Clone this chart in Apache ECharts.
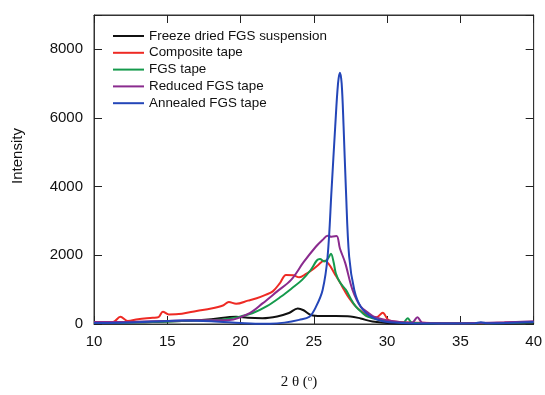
<!DOCTYPE html>
<html>
<head>
<meta charset="utf-8">
<script src="https://cdn.jsdelivr.net/npm/echarts@6/dist/echarts.min.js"></script>
<style>
  html, body { margin: 0; padding: 0; background: #fff; }
  #chart { width: 545px; height: 395px; }
</style>
</head>
<body>
<div id="chart"></div>
<script>
// [2θ, intensity]
const freezeDried = [[10,40],[12,50],[14,60],[16,90],[18,140],[19.7,210],[20.5,180],[21.5,170],[22.5,220],[23.3,320],[23.9,450],[24.3,400],[24.8,260],[25.5,230],[26.5,230],[27.5,220],[28.2,160],[29,70],[30,30],[32,15],[35,10],[38,20],[40,40]]
const composite = [[10,60],[11.3,60],[11.8,210],[12.3,90],[13,140],[14,180],[14.4,200],[14.7,360],[15.1,280],[16,300],[17,380],[18,450],[18.8,540],[19.2,640],[19.7,590],[20.5,680],[21.1,750],[21.7,850],[22.2,950],[22.7,1200],[23.1,1430],[23.6,1420],[24.0,1360],[24.5,1470],[24.9,1580],[25.3,1720],[25.7,1840],[26.0,1760],[26.4,1480],[26.8,1200],[27.07,990],[27.4,760],[27.87,505],[28.3,350],[28.8,220],[29.3,200],[29.7,330],[30.1,110],[30.8,60],[32,40],[34,20],[36,20],[38,40],[40,60]]
const fgsTape = [[10,30],[12,40],[14,60],[16,90],[18,110],[18.8,130],[19.8,200],[20.8,312],[21.8,520],[22.77,800],[23.5,1040],[24.2,1285],[24.8,1580],[25.2,1850],[25.42,1890],[25.7,1820],[25.95,1900],[26.17,2044],[26.35,1800],[26.5,1480],[26.8,1200],[27.19,993],[27.5,750],[27.87,505],[28.3,330],[28.66,213],[29.5,117],[30.5,60],[31.1,40],[31.4,170],[31.7,40],[33,20],[36,20],[40,50]]
const reducedTape = [[10,60],[12,60],[14,80],[16,100],[18,110],[19.25,117],[20.6,312],[21.5,600],[22.5,950],[23.45,1285],[24.3,1800],[25.15,2257],[25.6,2450],[25.94,2570],[26.2,2540],[26.55,2560],[26.78,2200],[27.14,1780],[27.64,993],[28.2,505],[28.8,300],[29.1,213],[29.9,117],[31,50],[31.7,40],[32.07,200],[32.4,40],[34,20],[36,30],[38,50],[40,80]]
const annealedTape = [[10,30],[12,40],[14,70],[16,100],[18,80],[20,30],[21,10],[22,10],[23,40],[24,120],[24.7,213],[25.15,505],[25.6,993],[25.94,1966],[26.21,3913],[26.46,5760],[26.65,7000],[26.78,7320],[26.9,7000],[27.03,5760],[27.19,3913],[27.41,1966],[27.76,993],[28.2,505],[28.9,213],[29.7,80],[31,30],[33,15],[36,20],[36.4,50],[36.8,20],[40,60]]

const names = ['Freeze dried FGS suspension', 'Composite tape', 'FGS tape', 'Reduced FGS tape', 'Annealed FGS tape']
const colors = ['#111111', '#ee2a24', '#159a4c', '#8a2b8e', '#2446b8']
const datasets = [freezeDried, composite, fgsTape, reducedTape, annealedTape]

const font = 'Liberation Sans, Arial, sans-serif'

const lines = datasets.map((d, i) => ({
  name: names[i],
  type: 'line',
  data: d,
  smooth: 0.35,
  symbol: 'none',
  color: colors[i],
  lineStyle: { width: 2, color: colors[i] },
  z: 2 + i
}))
// empty series so the top/right frame axes get drawn with ticks
lines.push({ type: 'line', data: [], xAxisIndex: 1, yAxisIndex: 1, symbol: 'none', silent: true })

const chart = echarts.init(document.getElementById('chart'))
chart.setOption({
  animation: false,
  grid: { left: 94, right: 10, top: 15, bottom: 71, show: true, borderColor: '#333', borderWidth: 1 },
  legend: {
    left: 108,
    top: 24,
    orient: 'vertical',
    icon: 'rect',
    itemWidth: 31,
    itemHeight: 2,
    itemGap: 2.8,
    textStyle: { fontFamily: font, fontSize: 13.4, color: '#111', lineHeight: 14 },
    data: names
  },
  xAxis: [
    {
      type: 'value', min: 10, max: 40, interval: 5,
      axisLine: { show: true, onZero: false, lineStyle: { color: '#333', width: 1 } },
      axisTick: { show: true, inside: true, length: 8, lineStyle: { color: '#222', width: 1 } },
      splitLine: { show: false },
      axisLabel: { fontFamily: font, fontSize: 15, color: '#111', margin: 10 }
    },
    {
      type: 'value', position: 'top', min: 10, max: 40, interval: 5,
      axisLine: { show: true, onZero: false, lineStyle: { color: '#333', width: 1 } },
      axisTick: { show: true, inside: true, length: 8, lineStyle: { color: '#222', width: 1 } },
      splitLine: { show: false },
      axisLabel: { show: true, color: 'rgba(0,0,0,0)', formatter: () => '' }
    }
  ],
  yAxis: [
    {
      type: 'value', min: 0, max: 9000, interval: 2000,
      axisLine: { show: true, onZero: false, lineStyle: { color: '#333', width: 1 } },
      axisTick: { show: true, inside: true, length: 8, lineStyle: { color: '#222', width: 1 } },
      splitLine: { show: false },
      axisLabel: {
        fontFamily: font, fontSize: 15, color: '#111', margin: 11,
        formatter: v => (v % 2000 === 0 ? String(v) : '')
      }
    },
    {
      type: 'value', position: 'right', min: 0, max: 9000, interval: 2000,
      axisLine: { show: true, onZero: false, lineStyle: { color: '#333', width: 1 } },
      axisTick: { show: true, inside: true, length: 8, lineStyle: { color: '#222', width: 1 } },
      splitLine: { show: false },
      axisLabel: { show: true, color: 'rgba(0,0,0,0)', formatter: () => '' }
    }
  ],
  graphic: [
    {
      type: 'text', x: 18, y: 156, rotation: Math.PI / 2,
      style: { text: 'Intensity', font: '15px ' + font, fill: '#111', align: 'center', verticalAlign: 'middle' }
    },
    {
      type: 'text', x: 299, y: 382,
      style: {
        text: '2 θ ({s|o})',
        font: '15px Liberation Serif, Times New Roman, serif',
        fill: '#111', align: 'center', verticalAlign: 'middle',
        rich: { s: { fontSize: 9, fontFamily: 'Liberation Serif, serif', verticalAlign: 'top', padding: [0, 0, 6, 0] } }
      }
    }
  ],
  series: lines
})
</script>
</body>
</html>
